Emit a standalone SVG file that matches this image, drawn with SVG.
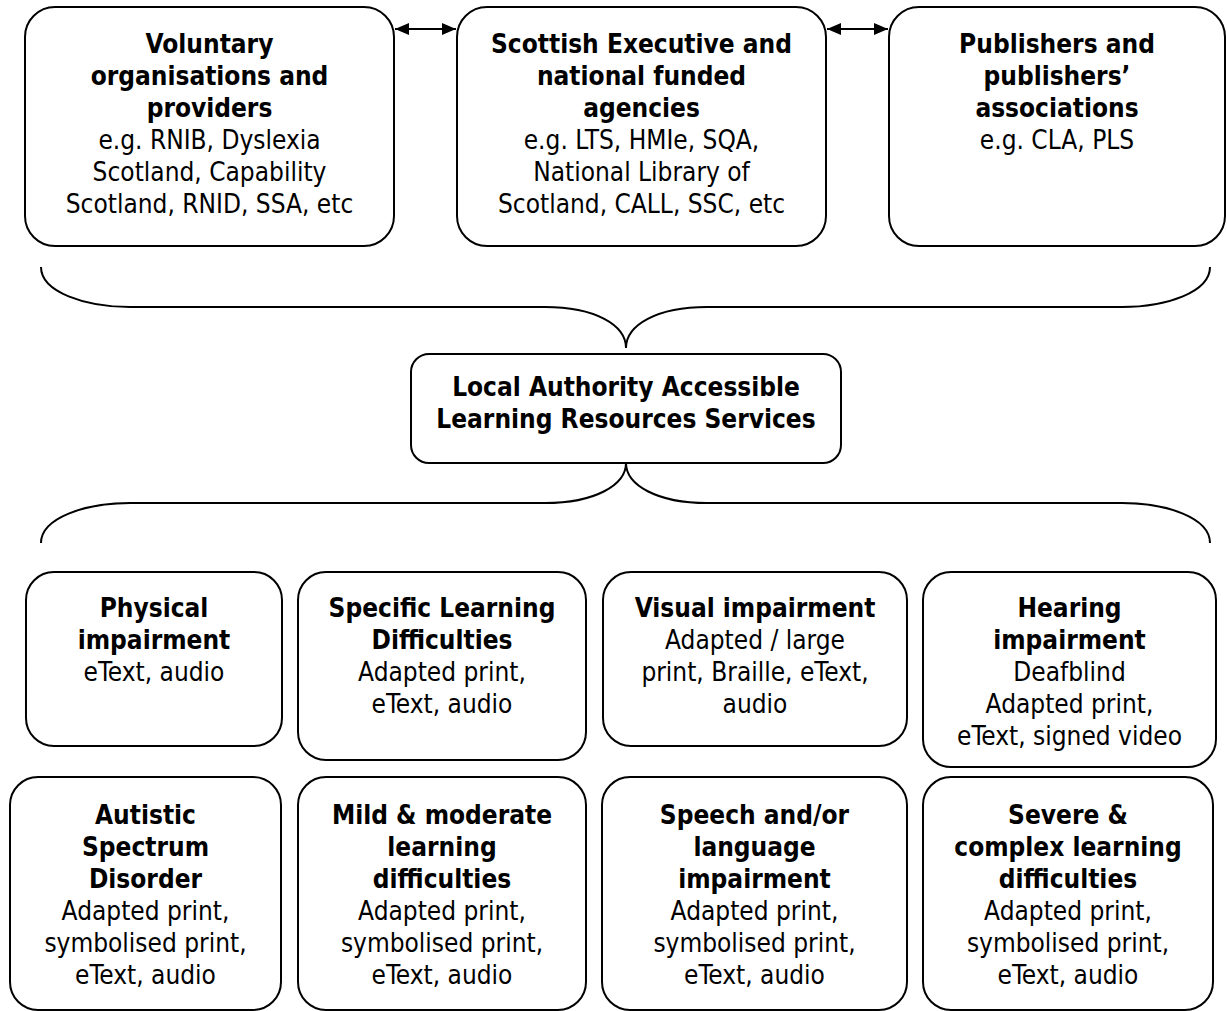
<svg xmlns="http://www.w3.org/2000/svg" width="1227" height="1011" viewBox="0 0 1227 1011">
<style>
.box{fill:#fff;stroke:#000;stroke-width:2}
.brace{fill:none;stroke:#000;stroke-width:2}
.link{stroke:#000;stroke-width:2;fill:none}
text{font-family:"DejaVu Sans Condensed","DejaVu Sans",Verdana,sans-serif;font-stretch:condensed;font-size:26px;text-anchor:middle;fill:#000}
.b{font-weight:bold}
</style>
<defs>
<marker id="ah" viewBox="0 0 14 12" refX="14" refY="6" markerWidth="14" markerHeight="12" markerUnits="userSpaceOnUse" orient="auto-start-reverse">
<path d="M0,0 L14,6 L0,12 Z" fill="#000"/>
</marker>
</defs>
<rect width="1227" height="1011" fill="#fff"/>
<g id="connectors">
<line class="link" x1="395" y1="29" x2="456" y2="29" marker-start="url(#ah)" marker-end="url(#ah)"/>
<line class="link" x1="827" y1="29" x2="888" y2="29" marker-start="url(#ah)" marker-end="url(#ah)"/>
<path class="brace" d="M41,267 C41,292 85,307 130,307 L545,307 C595,307 626,325 626,348 C626,325 657,307 707,307 L1122,307 C1167,307 1210,292 1210,267"/>
<path class="brace" d="M41,543 C41,518 85,503 130,503 L545,503 C595,503 626,485 626,463 C626,485 657,503 707,503 L1122,503 C1167,503 1210,518 1210,543"/>
</g>
<g id="voluntary">
<rect class="box" x="25" y="7" width="369" height="239" rx="30"/>
<text x="209.5" y="53" class="b">Voluntary</text>
<text x="209.5" y="85" class="b">organisations and</text>
<text x="209.5" y="117" class="b">providers</text>
<text x="209.5" y="149">e.g. RNIB, Dyslexia</text>
<text x="209.5" y="181">Scotland, Capability</text>
<text x="209.5" y="213">Scotland, RNID, SSA, etc</text>
</g>
<g id="scottish-executive">
<rect class="box" x="457" y="7" width="369" height="239" rx="30"/>
<text x="641.5" y="53" class="b">Scottish Executive and</text>
<text x="641.5" y="85" class="b">national funded</text>
<text x="641.5" y="117" class="b">agencies</text>
<text x="641.5" y="149">e.g. LTS, HMIe, SQA,</text>
<text x="641.5" y="181">National Library of</text>
<text x="641.5" y="213">Scotland, CALL, SSC, etc</text>
</g>
<g id="publishers">
<rect class="box" x="889" y="7" width="336" height="239" rx="30"/>
<text x="1057" y="53" class="b">Publishers and</text>
<text x="1057" y="85" class="b">publishers’</text>
<text x="1057" y="117" class="b">associations</text>
<text x="1057" y="149">e.g. CLA, PLS</text>
</g>
<g id="local-authority">
<rect class="box" x="411" y="354" width="430" height="109" rx="18"/>
<text x="626" y="396" class="b">Local Authority Accessible</text>
<text x="626" y="428" class="b">Learning Resources Services</text>
</g>
<g id="physical">
<rect class="box" x="26" y="572" width="256" height="174" rx="28"/>
<text x="154" y="617" class="b">Physical</text>
<text x="154" y="649" class="b">impairment</text>
<text x="154" y="681">eText, audio</text>
</g>
<g id="specific-learning">
<rect class="box" x="298" y="572" width="288" height="188" rx="28"/>
<text x="442" y="617" class="b">Specific Learning</text>
<text x="442" y="649" class="b">Difficulties</text>
<text x="442" y="681">Adapted print,</text>
<text x="442" y="713">eText, audio</text>
</g>
<g id="visual">
<rect class="box" x="603" y="572" width="304" height="174" rx="28"/>
<text x="755" y="617" class="b">Visual impairment</text>
<text x="755" y="649">Adapted / large</text>
<text x="755" y="681">print, Braille, eText,</text>
<text x="755" y="713">audio</text>
</g>
<g id="hearing">
<rect class="box" x="923" y="572" width="293" height="195" rx="28"/>
<text x="1069.5" y="617" class="b">Hearing</text>
<text x="1069.5" y="649" class="b">impairment</text>
<text x="1069.5" y="681">Deafblind</text>
<text x="1069.5" y="713">Adapted print,</text>
<text x="1069.5" y="745">eText, signed video</text>
</g>
<g id="autistic">
<rect class="box" x="10" y="777" width="271" height="233" rx="28"/>
<text x="145.5" y="824" class="b">Autistic</text>
<text x="145.5" y="856" class="b">Spectrum</text>
<text x="145.5" y="888" class="b">Disorder</text>
<text x="145.5" y="920">Adapted print,</text>
<text x="145.5" y="952">symbolised print,</text>
<text x="145.5" y="984">eText, audio</text>
</g>
<g id="mild-moderate">
<rect class="box" x="298" y="777" width="288" height="233" rx="28"/>
<text x="442" y="824" class="b">Mild &amp; moderate</text>
<text x="442" y="856" class="b">learning</text>
<text x="442" y="888" class="b">difficulties</text>
<text x="442" y="920">Adapted print,</text>
<text x="442" y="952">symbolised print,</text>
<text x="442" y="984">eText, audio</text>
</g>
<g id="speech-language">
<rect class="box" x="602" y="777" width="305" height="233" rx="28"/>
<text x="754.5" y="824" class="b">Speech and/or</text>
<text x="754.5" y="856" class="b">language</text>
<text x="754.5" y="888" class="b">impairment</text>
<text x="754.5" y="920">Adapted print,</text>
<text x="754.5" y="952">symbolised print,</text>
<text x="754.5" y="984">eText, audio</text>
</g>
<g id="severe-complex">
<rect class="box" x="923" y="777" width="290" height="233" rx="28"/>
<text x="1068" y="824" class="b">Severe &amp;</text>
<text x="1068" y="856" class="b">complex learning</text>
<text x="1068" y="888" class="b">difficulties</text>
<text x="1068" y="920">Adapted print,</text>
<text x="1068" y="952">symbolised print,</text>
<text x="1068" y="984">eText, audio</text>
</g>
</svg>
